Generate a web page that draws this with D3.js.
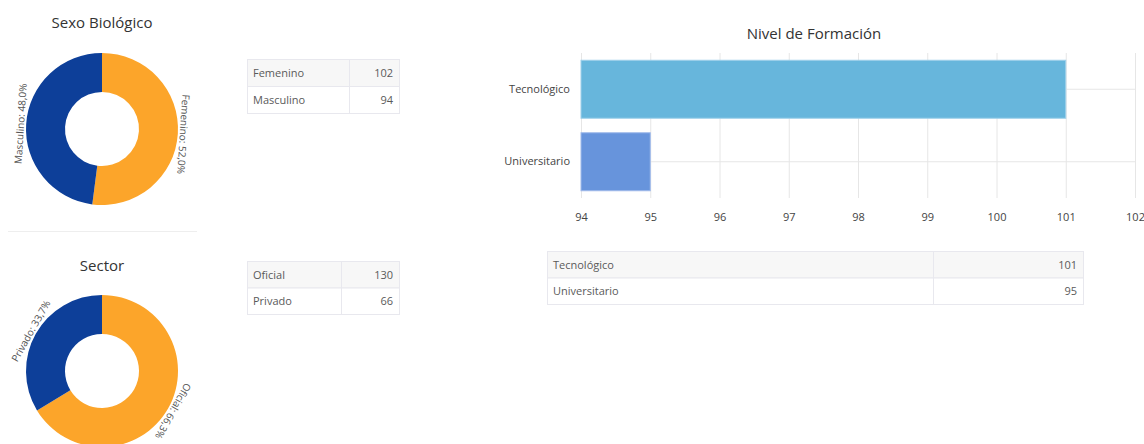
<!DOCTYPE html>
<html>
<head>
<meta charset="utf-8">
<script src="https://cdn.jsdelivr.net/npm/d3@7"></script>
<style>
  body { margin: 0; background: #fff; font-family: "Open Sans", sans-serif; }
  svg { display: block; }
</style>
</head>
<body>
<svg id="chart" width="1144" height="444"></svg>
<script>
// data
const sexoLabels = ['Femenino', 'Masculino'];
const sexoValues = [102, 94];
const sectorLabels = ['Oficial', 'Privado'];
const sectorValues = [130, 66];
const nivelLabels = ['Tecnológico', 'Universitario'];
const nivelValues = [101, 95];
const nivelTicks = [94, 95, 96, 97, 98, 99, 100, 101, 102];

const pieColors = ['#fca52a', '#0d3f99'];
const barColors = ['#67b6dc', '#6794dc'];
const barStroke = ['#9fd0ea', '#9fb9ea'];

const svg = d3.select('#chart');

function pct(v, total) {
  return (v / total * 100).toFixed(1).replace('.', ',') + '%';
}

// donut charts
function donut(labels, values, cx, cy, title, titleY) {
  const total = d3.sum(values);
  const data = labels.map((l, i) => ({label: l, value: values[i], color: pieColors[i]}));
  const outer = 76, inner = 37;
  const pie = d3.pie().sort(null).value(d => d.value);
  const arc = d3.arc().innerRadius(inner).outerRadius(outer);
  const g = svg.append('g').attr('transform', `translate(${cx}, ${cy})`);

  g.selectAll('path')
    .data(pie(data))
    .enter()
    .append('path')
    .attr('d', arc)
    .attr('fill', d => d.data.color);

  // labels run along the tangent, just outside the ring
  g.selectAll('text')
    .data(pie(data))
    .enter()
    .append('text')
    .attr('transform', d => {
      const a = (d.startAngle + d.endAngle) / 2;
      const r = outer + 2;
      return `translate(${r * Math.sin(a)}, ${-r * Math.cos(a)}) rotate(${a * 180 / Math.PI})`;
    })
    .attr('text-anchor', 'middle')
    .attr('font-size', 10)
    .attr('fill', '#555')
    .text(d => `${d.data.label}: ${pct(d.data.value, total)}`);

  svg.append('text')
    .attr('x', cx)
    .attr('y', titleY)
    .attr('text-anchor', 'middle')
    .attr('font-size', 15)
    .attr('fill', '#333')
    .text(title);
}

donut(sexoLabels, sexoValues, 102, 129, 'Sexo Biológico', 28);
donut(sectorLabels, sectorValues, 102, 371, 'Sector', 271);

// separator between the two donuts
svg.append('line')
  .attr('x1', 8).attr('x2', 197)
  .attr('y1', 231.5).attr('y2', 231.5)
  .attr('stroke', '#eeeeee');

// small tables
function table(labels, values, x, y, w, colX, rowH) {
  const g = svg.append('g').attr('transform', `translate(${x}, ${y})`);
  const rows = g.selectAll('g')
    .data(labels.map((l, i) => ({label: l, value: values[i]})))
    .enter()
    .append('g')
    .attr('transform', (d, i) => `translate(0, ${i * rowH})`);

  rows.append('rect')
    .attr('x', 0.5).attr('y', 0.5)
    .attr('width', w).attr('height', rowH)
    .attr('fill', (d, i) => i % 2 === 0 ? '#f7f7f7' : '#fff')
    .attr('stroke', '#e8e8ee');

  rows.append('line')
    .attr('x1', colX + 0.5).attr('x2', colX + 0.5)
    .attr('y1', 0.5).attr('y2', rowH + 0.5)
    .attr('stroke', '#e8e8ee');

  rows.append('text')
    .attr('x', 6)
    .attr('y', rowH / 2 + 4.5)
    .attr('font-size', 11)
    .attr('fill', '#5a5a5a')
    .text(d => d.label);

  rows.append('text')
    .attr('x', w - 6)
    .attr('y', rowH / 2 + 4.5)
    .attr('text-anchor', 'end')
    .attr('font-size', 11)
    .attr('fill', '#5a5a5a')
    .text(d => d.value);
}

table(sexoLabels, sexoValues, 247, 59, 152, 102, 27);
table(sectorLabels, sectorValues, 247, 261, 152, 94, 26.5);
table(nivelLabels, nivelValues, 547, 251, 536, 386, 26.5);

// horizontal bar chart
const plotLeft = 581, plotRight = 1135, plotTop = 53, plotBottom = 198;

const xScale = d3.scaleLinear()
  .domain([94, 102])
  .range([plotLeft, plotRight]);

const yScale = d3.scaleBand()
  .domain(nivelLabels)
  .range([plotTop, plotBottom])
  .paddingInner(0.2)
  .paddingOuter(0.1);

const barChart = svg.append('g');

// vertical grid lines
barChart.append('g')
  .attr('transform', `translate(0, ${plotTop})`)
  .call(d3.axisBottom(xScale).tickValues(nivelTicks).tickSize(plotBottom - plotTop).tickFormat(''))
  .call(g => g.select('.domain').remove())
  .call(g => g.selectAll('line').attr('stroke', '#e6e6e6'));

// category grid lines
barChart.append('g')
  .selectAll('line')
  .data(nivelLabels)
  .enter()
  .append('line')
  .attr('x1', plotLeft).attr('x2', plotRight)
  .attr('y1', d => yScale(d) + yScale.bandwidth() / 2)
  .attr('y2', d => yScale(d) + yScale.bandwidth() / 2)
  .attr('stroke', '#e6e6e6');

barChart.selectAll('rect')
  .data(nivelLabels.map((l, i) => ({label: l, value: nivelValues[i], i: i})))
  .enter()
  .append('rect')
  .attr('x', xScale(94))
  .attr('y', d => yScale(d.label))
  .attr('width', d => xScale(d.value) - xScale(94))
  .attr('height', yScale.bandwidth())
  .attr('fill', d => barColors[d.i])
  .attr('stroke', d => barStroke[d.i])
  .attr('stroke-width', 1);

// x tick labels
barChart.append('g')
  .attr('transform', `translate(0, ${plotBottom})`)
  .call(d3.axisBottom(xScale).tickValues(nivelTicks).tickSize(0).tickPadding(15).tickFormat(d3.format('d')))
  .call(g => g.select('.domain').remove())
  .call(g => g.selectAll('text').attr('font-family', '"Open Sans", sans-serif').attr('font-size', 11).attr('fill', '#444'));

// y tick labels
barChart.append('g')
  .attr('transform', `translate(${plotLeft}, 0)`)
  .call(d3.axisLeft(yScale).tickSize(0).tickPadding(11))
  .call(g => g.select('.domain').remove())
  .call(g => g.selectAll('text').attr('font-family', '"Open Sans", sans-serif').attr('font-size', 11).attr('fill', '#444'));

svg.append('text')
  .attr('x', 814)
  .attr('y', 39)
  .attr('text-anchor', 'middle')
  .attr('font-size', 15)
  .attr('fill', '#333')
  .text('Nivel de Formación');
</script>
</body>
</html>
